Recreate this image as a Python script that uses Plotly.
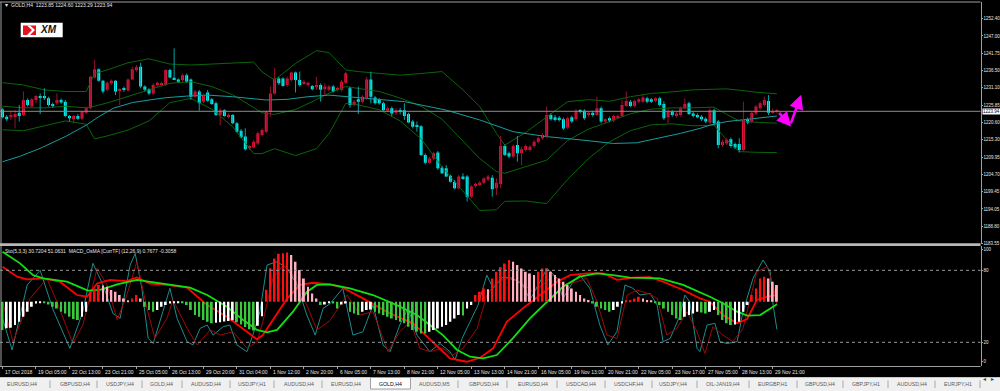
import plotly.graph_objects as go

W, H = 1000, 391

# ---------------- DATA ----------------
opens = [1224.5, 1222.3, 1222.1, 1222.5, 1223.5, 1222.8, 1227.4, 1225.4, 1227.4, 1228.6,
         1228.6, 1227.9, 1226.2, 1226.4, 1227.4, 1226.9, 1222.5, 1221.5, 1222.5, 1221.7,
         1223.5, 1224.9, 1234.3, 1236.8, 1233.3, 1230.5, 1232.5, 1233.3, 1230.3, 1231.0,
         1230.3, 1233.7, 1236.6, 1237.6, 1231.5, 1230.7, 1229.4, 1232.0, 1232.0, 1232.0,
         1236.6, 1234.2, 1233.7, 1233.5, 1235.0, 1233.7, 1228.4, 1230.0, 1226.9, 1229.7,
         1227.6, 1226.4, 1222.8, 1224.3, 1222.3, 1222.8, 1220.3, 1218.0, 1216.2, 1212.6,
         1212.9, 1214.1, 1216.7, 1217.7, 1223.8, 1229.4, 1234.0, 1234.0, 1232.0, 1233.5,
         1235.8, 1233.5, 1232.5, 1232.0, 1231.7, 1231.3, 1232.0, 1230.7, 1230.5, 1231.5,
         1230.5, 1230.5, 1232.7, 1231.0, 1225.9, 1227.6, 1226.9, 1227.9, 1233.7, 1228.2,
         1227.4, 1226.4, 1224.1, 1224.9, 1223.5, 1224.3, 1224.3, 1223.1, 1220.8, 1219.5,
         1219.4, 1210.6, 1208.2, 1209.5, 1211.3, 1206.7, 1206.5, 1204.2, 1202.4, 1200.4,
         1204.0, 1204.0, 1197.8, 1201.1, 1201.4, 1202.1, 1203.1, 1203.6, 1200.4, 1201.7,
         1213.3, 1211.1, 1210.1, 1213.6, 1211.1, 1212.1, 1212.1, 1213.3, 1214.6, 1215.7,
         1216.2, 1222.8, 1222.1, 1222.0, 1221.5, 1219.0, 1222.1, 1221.5, 1224.1, 1224.1,
         1222.8, 1223.5, 1222.8, 1224.9, 1220.8, 1221.8, 1221.1, 1222.1, 1222.5, 1225.6,
         1226.9, 1225.6, 1226.9, 1226.9, 1227.9, 1227.6, 1227.2, 1227.9, 1226.2, 1222.1,
         1223.8, 1222.5, 1222.8, 1224.9, 1226.4, 1223.3, 1222.8, 1222.3, 1221.7, 1220.5,
         1224.3, 1220.8, 1213.6, 1214.1, 1215.4, 1213.9, 1213.9, 1212.1, 1221.5, 1220.8,
         1223.3, 1224.9, 1225.9, 1227.1, 1223.5, 1223.85]
highs = [1224.9, 1222.8, 1223.8, 1224.3, 1225.9, 1230.0, 1227.9, 1228.0, 1228.9, 1229.4,
         1231.0, 1228.4, 1226.6, 1229.4, 1227.9, 1227.4, 1222.8, 1222.8, 1223.1, 1224.1,
         1225.4, 1234.8, 1239.6, 1237.1, 1233.5, 1233.0, 1233.7, 1233.5, 1231.0, 1231.5,
         1234.0, 1237.6, 1238.1, 1238.8, 1231.9, 1231.0, 1232.5, 1233.0, 1233.0, 1236.8,
         1237.0, 1243.2, 1234.0, 1235.5, 1235.5, 1234.0, 1230.5, 1230.5, 1229.4, 1230.5,
         1228.0, 1226.9, 1224.9, 1224.6, 1223.3, 1223.1, 1220.6, 1218.5, 1218.7, 1213.6,
         1215.2, 1217.7, 1218.7, 1224.1, 1231.5, 1237.1, 1234.5, 1234.3, 1234.5, 1236.1,
         1236.1, 1236.1, 1233.5, 1233.0, 1232.0, 1234.5, 1232.5, 1232.5, 1232.0, 1232.0,
         1231.5, 1233.5, 1236.1, 1231.5, 1227.4, 1231.5, 1228.9, 1234.5, 1236.1, 1228.6,
         1228.0, 1226.9, 1225.4, 1225.4, 1224.9, 1225.0, 1226.4, 1223.5, 1221.3, 1220.8,
         1219.7, 1211.1, 1210.0, 1211.5, 1211.8, 1207.2, 1207.5, 1204.6, 1202.9, 1204.5,
         1205.0, 1204.4, 1201.4, 1202.1, 1202.6, 1203.8, 1204.5, 1204.4, 1203.4, 1216.4,
         1213.8, 1211.6, 1213.8, 1216.4, 1213.1, 1213.8, 1213.6, 1215.2, 1216.2, 1217.2,
         1225.4, 1223.3, 1222.8, 1222.5, 1222.0, 1222.3, 1222.6, 1224.6, 1224.6, 1224.6,
         1223.8, 1224.1, 1228.4, 1225.4, 1221.8, 1222.3, 1223.0, 1223.0, 1227.4, 1230.0,
         1227.4, 1227.6, 1228.0, 1228.9, 1228.4, 1228.0, 1228.2, 1228.4, 1227.0, 1224.9,
         1224.3, 1223.8, 1225.4, 1227.9, 1226.9, 1223.8, 1223.3, 1222.8, 1222.1, 1224.8,
         1224.8, 1221.3, 1215.2, 1215.7, 1215.9, 1214.4, 1215.7, 1226.9, 1222.0, 1224.0,
         1225.9, 1226.9, 1228.4, 1228.9, 1224.8, 1224.60]
lows = [1221.8, 1221.0, 1221.3, 1218.7, 1220.8, 1222.5, 1225.4, 1225.0, 1226.4, 1223.1,
        1227.4, 1225.4, 1225.0, 1225.9, 1226.2, 1222.1, 1220.8, 1220.3, 1221.3, 1221.3,
        1223.1, 1224.5, 1234.0, 1233.0, 1229.4, 1230.0, 1232.0, 1228.9, 1225.9, 1229.9,
        1229.9, 1233.5, 1236.1, 1231.0, 1230.0, 1228.9, 1228.9, 1231.5, 1231.7, 1231.7,
        1234.0, 1233.5, 1232.7, 1233.0, 1232.7, 1227.4, 1227.9, 1224.1, 1226.4, 1226.9,
        1225.9, 1222.5, 1219.7, 1222.3, 1221.8, 1220.0, 1217.4, 1215.7, 1211.9, 1212.1,
        1212.6, 1213.6, 1216.2, 1217.2, 1222.3, 1229.0, 1232.0, 1231.5, 1231.5, 1233.0,
        1229.7, 1231.5, 1232.0, 1231.5, 1230.3, 1230.5, 1226.9, 1228.9, 1230.0, 1229.7,
        1230.0, 1230.0, 1232.2, 1225.0, 1225.4, 1223.1, 1226.4, 1227.4, 1226.4, 1226.0,
        1226.0, 1224.0, 1223.8, 1222.5, 1222.8, 1223.0, 1221.3, 1220.3, 1218.7, 1217.7,
        1210.3, 1207.7, 1207.9, 1209.0, 1206.0, 1204.7, 1203.8, 1202.1, 1200.1, 1200.0,
        1203.0, 1196.3, 1197.3, 1200.6, 1201.0, 1201.6, 1202.6, 1197.8, 1198.3, 1200.4,
        1210.3, 1209.6, 1209.6, 1208.5, 1207.5, 1211.6, 1211.6, 1212.8, 1214.1, 1215.2,
        1215.7, 1221.1, 1220.8, 1220.8, 1218.2, 1218.5, 1220.3, 1221.0, 1223.3, 1221.3,
        1222.3, 1222.3, 1222.5, 1220.3, 1220.3, 1220.6, 1220.6, 1221.6, 1222.3, 1225.4,
        1225.2, 1225.2, 1226.4, 1226.6, 1226.4, 1226.5, 1226.7, 1225.4, 1221.3, 1220.3,
        1222.3, 1222.0, 1222.3, 1224.6, 1222.8, 1222.0, 1221.8, 1221.0, 1220.3, 1220.0,
        1219.8, 1212.6, 1213.1, 1213.6, 1212.8, 1212.4, 1211.3, 1211.6, 1220.0, 1220.3,
        1222.8, 1224.4, 1225.4, 1222.8, 1223.2, 1223.29]
closes = [1222.1, 1221.5, 1222.8, 1223.1, 1222.5, 1227.4, 1225.9, 1227.6, 1228.6, 1228.2,
          1227.9, 1225.9, 1225.6, 1227.4, 1226.6, 1222.5, 1221.8, 1222.5, 1221.7, 1223.8,
          1224.9, 1234.5, 1236.8, 1233.3, 1230.0, 1232.7, 1233.3, 1230.0, 1230.7, 1230.5,
          1233.7, 1236.8, 1237.4, 1231.5, 1230.5, 1229.4, 1232.0, 1232.7, 1232.5, 1236.6,
          1234.3, 1233.7, 1233.0, 1235.0, 1233.0, 1228.4, 1230.0, 1226.4, 1228.9, 1227.2,
          1226.2, 1222.8, 1224.3, 1222.5, 1222.8, 1220.3, 1217.7, 1216.0, 1212.3, 1213.3,
          1214.6, 1217.2, 1218.2, 1223.8, 1229.4, 1234.0, 1232.5, 1231.7, 1234.0, 1235.8,
          1233.5, 1232.0, 1233.0, 1232.7, 1230.7, 1232.0, 1230.5, 1231.5, 1231.5, 1230.0,
          1231.0, 1233.0, 1235.6, 1225.9, 1226.9, 1226.9, 1228.4, 1233.7, 1228.4, 1226.4,
          1226.4, 1224.3, 1224.9, 1223.3, 1224.3, 1223.8, 1222.5, 1220.5, 1219.2, 1219.2,
          1210.6, 1208.2, 1209.5, 1211.1, 1206.5, 1205.0, 1204.0, 1202.4, 1200.4, 1204.0,
          1203.4, 1197.8, 1200.9, 1201.7, 1202.1, 1203.4, 1204.0, 1200.1, 1202.1, 1213.3,
          1210.6, 1210.1, 1213.3, 1211.1, 1212.3, 1213.3, 1213.1, 1214.6, 1215.7, 1216.7,
          1222.8, 1221.5, 1221.3, 1221.3, 1218.7, 1221.8, 1220.8, 1224.1, 1223.8, 1221.8,
          1223.5, 1222.8, 1224.9, 1220.8, 1221.5, 1221.1, 1222.5, 1222.5, 1225.9, 1227.1,
          1225.6, 1227.1, 1227.6, 1228.2, 1226.9, 1226.9, 1227.9, 1225.9, 1221.8, 1223.8,
          1222.8, 1223.3, 1224.9, 1226.2, 1223.1, 1222.5, 1222.1, 1221.5, 1220.8, 1224.3,
          1220.3, 1213.6, 1214.6, 1215.2, 1213.3, 1212.9, 1212.1, 1221.3, 1220.5, 1223.5,
          1225.4, 1226.4, 1227.4, 1223.5, 1224.0, 1223.94]
bars = list(range(len(opens)))

# Bollinger bands (read at sampled bars)
bb_x = [0, 5, 10, 15, 20, 22, 25, 30, 35, 40, 45, 50, 55, 60, 62, 65, 70, 75, 78, 82, 85, 90, 95, 100,
        105, 110, 114, 118, 120, 125, 130, 135, 140, 145, 150, 155, 160, 165, 170, 173, 176, 180, 185]
bb_upper = [1232.7, 1232.0, 1230.5, 1230.0, 1230.0, 1235.5, 1236.6, 1238.8, 1240.0, 1238.4, 1238.1,
            1238.4, 1238.8, 1239.0, 1236.0, 1233.5, 1238.6, 1242.5, 1241.9, 1236.6, 1236.1, 1235.6,
            1235.0, 1235.5, 1236.1, 1230.5, 1225.4, 1217.2, 1213.6, 1217.5, 1222.3, 1226.9, 1227.5,
            1227.0, 1228.4, 1229.4, 1229.9, 1230.5, 1230.7, 1230.8, 1230.4, 1229.8, 1229.3]
bb_mid = [1225.5, 1225.0, 1225.0, 1225.5, 1225.0, 1225.5, 1226.5, 1228.5, 1230.5, 1232.5, 1233.0,
          1231.5, 1229.0, 1225.0, 1223.5, 1223.0, 1224.5, 1227.5, 1229.5, 1231.5, 1231.0, 1230.0,
          1228.0, 1225.5, 1221.5, 1215.0, 1209.5, 1205.5, 1205.0, 1207.0, 1209.0, 1215.0, 1218.5,
          1220.8, 1223.2, 1224.6, 1225.0, 1225.0, 1225.2, 1223.0, 1221.0, 1220.6, 1220.3]
bb_lower = [1218.3, 1218.0, 1219.5, 1221.0, 1220.0, 1215.5, 1216.4, 1218.2, 1221.0, 1226.6, 1227.9,
            1224.6, 1219.2, 1211.0, 1211.0, 1212.5, 1210.4, 1212.5, 1217.1, 1226.4, 1225.9, 1224.4,
            1221.0, 1215.5, 1206.9, 1199.5, 1193.6, 1193.8, 1196.4, 1196.5, 1195.7, 1203.1, 1209.5,
            1214.6, 1218.0, 1219.8, 1220.1, 1219.5, 1219.7, 1215.2, 1211.6, 1211.4, 1211.3]

# slow moving average (teal)
ma_x = [0, 4, 9, 15, 20, 23, 26.5, 31, 35, 39, 44, 49, 55, 63, 68, 73, 78, 96, 106, 114, 122, 130,
        138, 146, 151.5, 157, 162, 166.6, 169, 173, 177.7, 181, 185]
ma_y = [1208.5, 1210.1, 1212.6, 1216.2, 1219.7, 1222.3, 1224.9, 1226.6, 1227.4, 1228.1, 1228.6,
        1228.9, 1228.4, 1227.4, 1227.6, 1228.4, 1228.9, 1226.9, 1224.3, 1221.3, 1217.7, 1216.2,
        1215.2, 1214.1, 1214.3, 1215.7, 1217.2, 1218.7, 1219.7, 1220.8, 1221.5, 1222.1, 1222.5]

price_ticks = [1252.40, 1247.00, 1241.75, 1236.50, 1231.10, 1225.85, 1220.60, 1215.30, 1209.95,
               1204.70, 1199.45, 1194.05, 1188.80, 1183.55]
last_open, last_high, last_low, last_price = 1223.85, 1224.60, 1223.29, 1223.94

# lower window: stochastic (5,3,3)
stk_x = [0, 2.3, 5.9, 9, 12.1, 16.1, 19.2, 21.6, 24, 26.4, 28.1, 30.5, 31.7, 33.3, 34.8, 36, 38.3,
         40, 41.7, 44.1, 45.5, 47.2, 48.9, 50.3, 52.7, 54.3, 56, 58.4, 59.8, 61.5, 63.2, 65.6, 68,
         70.4, 72.7, 74.7, 76.6, 78.2, 81.3, 83.7, 86.1, 88.5, 90.9, 92.6, 94.9, 96.9, 99, 102.1,
         104.5, 106.9, 108.1, 109.8, 111.7, 113.6, 115.7, 117.2, 119.6, 121.9, 124.3, 126, 128.4,
         130.1, 132.5, 133.9, 136.3, 137.9, 140.3, 142.7, 144.6, 146.8, 148.7, 150.6, 152.3, 154.7,
         156.4, 157.8, 159.5, 161.9, 163, 164.2, 165.9, 166.6, 168.3, 170.2, 171.4, 173.1, 175.5,
         176.9, 179.3, 181.7, 183.4, 184.1, 185]
stk_main = [40, 13.6, 67.8, 80, 47, 15, 45.5, 85.8, 67.8, 44, 40, 84.4, 94, 65, 23.3, 19, 45.5, 65,
            40, 20.5, 17.8, 31.6, 34.4, 26, 33, 34.4, 17.8, 12.2, 26, 45.5, 84.4, 87.2, 81.7, 67.8,
            42.7, 26, 48.3, 52, 65, 26, 28.8, 51, 17.8, 12.2, 34.4, 48.3, 26, 12.2, 19, 12.2, 5.3,
            23.3, 37.2, 51, 76, 65, 74.7, 73.3, 67.8, 55.3, 70.5, 81.7, 73.3, 56.6, 70.5, 76, 65,
            34.4, 17.8, 29, 67.8, 65, 59.4, 60.8, 51, 20.5, 23.3, 42.7, 59.4, 53.8, 15, 12.2, 34.4,
            35.8, 20.5, 19, 20.5, 45.5, 73.3, 88.6, 78.8, 51, 30.7]
std_x = [0, 2.5, 6.6, 10.6, 13, 16.8, 19.2, 22.6, 25, 27.4, 29.7, 32.1, 34.5, 36.4, 39.3, 40.7, 44.1,
         46.5, 49.6, 52, 55.1, 58.4, 60.8, 62.2, 64.6, 67, 69.4, 72.7, 75.1, 78.2, 82.3, 85.4, 88.5,
         92.1, 94.9, 97.4, 99.7, 102.1, 105.2, 107.6, 110, 113.4, 115.7, 118.1, 120.5, 123.6, 126.7,
         129.1, 131.5, 133.9, 137.2, 139.6, 142, 144.4, 146.8, 149.2, 151.6, 154.7, 156.4, 158.7,
         161.1, 163.5, 165.9, 167.8, 169.7, 172.1, 174.5, 176.9, 180.2, 182.7, 184.1, 185]
stk_signal = [53.8, 20.5, 56.6, 73.3, 53.8, 19, 34.4, 81.7, 67.8, 38.6, 59.4, 87.2, 48.3, 23.3, 40,
              55.3, 31.6, 17.8, 30.3, 26, 28.8, 15, 20.5, 37.2, 73.3, 84.4, 76, 51, 30.3, 38, 59.4,
              42.7, 45.5, 12.2, 28.8, 37.2, 15, 12.2, 15, 9.4, 15, 31.6, 59.4, 70.5, 73.3, 70.5,
              62.2, 67.8, 76, 67.8, 70.5, 73.3, 53.8, 26, 23.3, 59.4, 63.6, 60, 56.6, 26, 31.6,
              45.5, 28.8, 10.8, 33, 26, 20.5, 31.6, 78.8, 83, 67.8, 51.1]

# lower window: MACD_OsMA lines (thick red / thick green)
macd_x = [0, 3.5, 5.9, 9.7, 13.7, 17.8, 20.2, 22.6, 25.7, 29.7, 32.1, 35.2, 39.3, 44.1, 48.9, 53.6,
          58.4, 60.8, 62.2, 64.6, 68, 71.1, 74.2, 78.2, 81.3, 86.1, 92.6, 98.1, 102.8, 106.9, 110.9,
          114.1, 117.2, 120.5, 124.3, 128.4, 132.5, 135.6, 139.6, 143.5, 146.8, 150.6, 154.7, 157.8,
          162.6, 166.6, 169, 172.1, 175.5, 177.9, 180.2, 182.7, 185]
macd_main = [83, 74.7, 72.5, 73.3, 70.5, 59.4, 58, 69, 72, 71, 74, 69, 67.8, 65.5, 51, 41.3, 28.8,
             22.5, 26, 38.6, 56.6, 67.8, 69.6, 68.3, 65.5, 56.6, 44, 35.8, 20.5, 6.6, 3.8, 7.2, 15,
             37.2, 48.3, 59.4, 70.5, 76, 77.5, 77.5, 72, 73.9, 74.2, 70.5, 63.6, 56.6, 53.8, 42.7,
             35.8, 39.4, 55.3, 58, 59.4]
sig_x = [0, 4.2, 7.3, 9.7, 15.4, 19.2, 20.4, 23.3, 27.4, 32.1, 35.2, 40.7, 44.8, 48.9, 53.6, 57.5,
         60.8, 63.2, 65.6, 69.4, 72.7, 75.1, 78.2, 83, 88.5, 94.2, 99, 102.1, 105.2, 108.6, 111.7,
         114.8, 118.1, 121.9, 126, 130.1, 133.9, 137.9, 142, 145.8, 149.9, 157.1, 162.6, 169,
         172.1, 175.5, 177.9, 181, 185]
macd_signal = [95.5, 85.8, 76, 73.3, 70.5, 65, 63, 63.6, 68.3, 72, 70.5, 67.8, 65.5, 59.4, 49.7,
               38.6, 30.3, 28.3, 30.3, 45.5, 62, 67.8, 68.3, 65, 59.4, 51, 42.7, 34.4, 26, 13.6, 8,
               6.6, 9.4, 23.3, 40, 53.8, 66.3, 74.7, 77.5, 76, 73.9, 73.3, 67.8, 58, 52.5, 45.5,
               42.2, 42.7, 51.7]
osma = [-23.6, -22.0, -21.7, -19.4, -16.7, -12.5, -8.3, -4.2, -1.4, -0.6,
        -0.8, -2.2, -4.2, -5.6, -8.3, -9.7, -12.5, -14.4, -15.3, -12.5,
        -8.3, 8.3, 11.1, 13.9, 13.6, 12.5, 9.7, 8.3, 5.6, 2.8,
        0.6, 2.8, 5.6, 2.8, -4.2, -6.9, -8.3, -6.9, -4.2, -2.8,
        -1.4, -0.8, -0.6, -1.0, -2.8, -6.9, -11.1, -12.5, -15.3, -16.7,
        -18.0, -17.5, -17.0, -16.5, -16.0, -15.5, -17.0, -19.0, -21.0, -23.0,
        -24.0, -20.0, -12.0, 10.0, 28.0, 36.0, 40.0, 40.5, 41.0, 38.9,
        33.3, 26.4, 19.4, 12.5, 6.9, 2.8, -2.8, -2.2, -0.6, -1.4,
        -5.6, -2.2, -1.4, -8.3, -9.7, -11.1, -8.3, -6.9, -6.5, -8.3,
        -9.7, -11.1, -12.5, -13.9, -15.3, -16.7, -18.0, -20.8, -23.6, -25.0,
        -26.4, -26.5, -25.0, -23.6, -22.2, -20.8, -19.4, -16.7, -13.9, -11.1,
        -11.5, -5.6, -2.8, 5.6, 8.3, 11.1, 10.5, 19.4, 25.0, 29.0,
        31.9, 34.7, 33.3, 30.6, 27.8, 25.0, 23.6, 22.2, 25.0, 27.8,
        28.0, 25.0, 22.2, 19.4, 16.7, 13.9, 11.1, 8.3, 5.6, 2.8,
        1.4, -1.4, -4.2, -5.6, -6.9, -8.3, -6.9, -4.2, -1.4, 0.6,
        1.4, 2.8, 4.2, 2.8, 1.4, 0.6, -0.6, -2.8, -5.6, -8.3,
        -11.1, -13.9, -15.3, -12.5, -11.1, -9.7, -8.3, -9.0, -9.7, -8.3,
        -6.9, -11.1, -15.3, -18.0, -19.4, -19.0, -16.7, -8.3, -2.8, 5.6,
        11.1, 19.4, 20.8, 19.4, 16.7, 13.9]
stoch_levels = [80, 20]

date_labels = ["17 Oct 2018", "19 Oct 05:00", "22 Oct 13:00", "23 Oct 21:00", "25 Oct 05:00",
               "26 Oct 13:00", "29 Oct 20:00", "31 Oct 04:00", "1 Nov 12:00", "2 Nov 20:00",
               "6 Nov 05:00", "7 Nov 13:00", "8 Nov 21:00", "12 Nov 05:00", "13 Nov 13:00",
               "14 Nov 21:00", "16 Nov 05:00", "19 Nov 13:00", "20 Nov 21:00", "22 Nov 05:00",
               "23 Nov 17:00", "27 Nov 05:00", "28 Nov 13:00", "29 Nov 21:00"]
date_tick_bars = list(range(0, 8 * len(date_labels), 8))

tab_labels = ["EURUSD,H4", "GBPUSD,H4", "USDJPY,H4", "GOLD,H4", "AUDUSD,H4", "USDJPY,H1",
              "AUDUSD,H4", "EURUSD,H4", "GOLD,H4", "AUDUSD,M5", "GBPUSD,H4", "EURUSD,H4",
              "USDCAD,H4", "USDCHF,H4", "USDJPY,H4", "OIL-JAN19,H4", "EURGBP,H1", "GBPUSD,H4",
              "GBPJPY,H1", "AUDUSD,H4", "EURJPY,H1"]
active_tab = 8

arrow_path = [(185.2, 1223.9), (188.4, 1219.3), (188.2, 1219.8), (190.8, 1229.0)]

# ---------------- STYLE / LAYOUT HELPERS ----------------
FONT = "Liberation Sans, Arial, sans-serif"
BULL, BEAR = "#e8163c", "#00ffff"
BULL_WICK, BEAR_WICK = "#9a1030", "#00a5a5"
FRAME = "#a0a0a0"
TXT = "#e6e6e6"
PLOT_R = 980.5  # right edge of plot area in px


def py(p):
    return 1 - p / H


def pxf(p):
    return p / W


fig = go.Figure()

# Bollinger + MA (behind candles)
for arr in (bb_upper, bb_mid, bb_lower):
    fig.add_trace(go.Scatter(x=bb_x, y=arr, mode="lines", line=dict(color="#0a650a", width=1),
                             xaxis="x", yaxis="y", hoverinfo="skip"))
fig.add_trace(go.Scatter(x=ma_x, y=ma_y, mode="lines", line=dict(color="#1a9c9c", width=1),
                         xaxis="x", yaxis="y", hoverinfo="skip"))

# candles
inc = [i for i in bars if closes[i] >= opens[i]]
dec = [i for i in bars if closes[i] < opens[i]]


def wick_xy(idx):
    xs, ys = [], []
    for i in idx:
        xs += [i, i, None]
        ys += [lows[i], highs[i], None]
    return xs, ys


for idx, wc, bc in ((inc, BULL_WICK, BULL), (dec, BEAR_WICK, BEAR)):
    wx, wy = wick_xy(idx)
    fig.add_trace(go.Scatter(x=wx, y=wy, mode="lines", line=dict(color=wc, width=1),
                             xaxis="x", yaxis="y", hoverinfo="skip"))
    fig.add_trace(go.Bar(x=idx, base=[min(opens[i], closes[i]) for i in idx],
                         y=[max(abs(closes[i] - opens[i]), 0.3) for i in idx],
                         width=0.7, marker=dict(color=bc, line=dict(width=0)),
                         xaxis="x", yaxis="y", hoverinfo="skip"))

# OsMA histogram
hist_colors = []
prev = None
for v in osma:
    rising = prev is not None and v > prev
    if v >= 0:
        hist_colors.append("#ff1010" if (rising or prev is None) else "#ffb0c0")
    else:
        hist_colors.append("#ffffff" if rising else "#3cc83c")
    prev = v
fig.add_trace(go.Bar(x=bars, y=osma, width=0.45, marker=dict(color=hist_colors, line=dict(width=0)),
                     xaxis="x", yaxis="y3", hoverinfo="skip"))

# stochastic + MACD lines
fig.add_trace(go.Scatter(x=stk_x, y=stk_main, mode="lines", line=dict(color="#1d8c8c", width=1),
                         xaxis="x", yaxis="y2", hoverinfo="skip"))
fig.add_trace(go.Scatter(x=std_x, y=stk_signal, mode="lines", line=dict(color="#a00808", width=1),
                         xaxis="x", yaxis="y2", hoverinfo="skip"))
fig.add_trace(go.Scatter(x=macd_x, y=macd_main, mode="lines", line=dict(color="#ff0000", width=1.8),
                         xaxis="x", yaxis="y2", hoverinfo="skip"))
fig.add_trace(go.Scatter(x=sig_x, y=macd_signal, mode="lines", line=dict(color="#10e010", width=1.8),
                         xaxis="x", yaxis="y2", hoverinfo="skip"))

# ---------------- AXES ----------------
x_per_bar = 4.186
x_left = -2.5 / x_per_bar
x_right = (PLOT_R - 2.5) / x_per_bar
price_per_px = 0.306
y_top = price_ticks[0] + (18.3 - 2) * price_per_px
y_bot = price_ticks[0] - (243.5 - 18.3) * price_per_px

axis_font = dict(family=FONT, size=4.5, color=TXT)
fig.update_layout(
    width=W, height=H, margin=dict(l=0, r=0, t=0, b=0, pad=0),
    paper_bgcolor="#000000", plot_bgcolor="rgba(0,0,0,0)",
    showlegend=False, hovermode=False, barmode="overlay",
    xaxis=dict(domain=[0, PLOT_R / W], range=[x_left, x_right], anchor="y2",
               showgrid=False, zeroline=False, showline=False, ticks="outside",
               tickvals=date_tick_bars, ticklen=2, tickcolor=FRAME, showticklabels=False,
               automargin=False, fixedrange=True),
    yaxis=dict(domain=[py(243.5), py(2)], range=[y_bot, y_top], side="right", anchor="x",
               tickvals=price_ticks, ticktext=[f"{v:.2f}" for v in price_ticks],
               ticks="outside", ticklen=1, tickcolor=FRAME, tickfont=axis_font,
               showline=True, linecolor=FRAME, linewidth=1, showgrid=False, zeroline=False,
               automargin=False, fixedrange=True),
    yaxis2=dict(domain=[py(366.3), py(246.3)], range=[0, 100], side="right", anchor="x",
                tickvals=[97.5, 80, 20, 3.8], ticktext=["100", "80", "20", "0"],
                ticks="outside", ticklen=1, tickcolor=FRAME, tickfont=axis_font,
                showline=True, linecolor=FRAME, linewidth=1, showgrid=False, zeroline=False,
                automargin=False, fixedrange=True),
    yaxis3=dict(overlaying="y2", anchor="x", range=[-53.8, 46.2], visible=False, fixedrange=True),
)

# ---------------- SHAPES ----------------
shapes = []
# price line
shapes.append(dict(type="line", xref="paper", yref="y", x0=0, x1=PLOT_R / W, y0=last_price,
                   y1=last_price, line=dict(color="#8c8c8c", width=1)))
# frame
shapes.append(dict(type="line", xref="paper", yref="paper", x0=0, x1=PLOT_R / W, y0=py(2), y1=py(2),
                   line=dict(color=FRAME, width=1)))
shapes.append(dict(type="line", xref="paper", yref="paper", x0=pxf(1), x1=pxf(1), y0=py(2), y1=py(366.3),
                   line=dict(color=FRAME, width=1)))
shapes.append(dict(type="rect", xref="paper", yref="paper", x0=0, x1=PLOT_R / W, y0=py(246), y1=py(243.3),
                   fillcolor="#b8b8b8", line=dict(width=0)))
shapes.append(dict(type="line", xref="paper", yref="paper", x0=0, x1=PLOT_R / W, y0=py(366.5), y1=py(366.5),
                   line=dict(color=FRAME, width=1)))
for lv in stoch_levels:
    shapes.append(dict(type="line", xref="paper", yref="y2", x0=0, x1=PLOT_R / W, y0=lv, y1=lv,
                       line=dict(color="#9a9a9a", width=1, dash="dot")))
# tab bar
shapes.append(dict(type="rect", xref="paper", yref="paper", x0=0, x1=1, y0=py(391), y1=py(377.5),
                   fillcolor="#f0f0f0", line=dict(width=0)))
shapes.append(dict(type="line", xref="paper", yref="paper", x0=0, x1=1, y0=py(377.5), y1=py(377.5),
                   line=dict(color="#c8c8c8", width=1)))
shapes.append(dict(type="rect", xref="paper", yref="paper", x0=pxf(370.5), x1=pxf(410.5),
                   y0=py(389), y1=py(377.5), fillcolor="#ffffff", line=dict(color="#a0a0a0", width=1)))
tab_centers = [21.5, 74.5, 120, 161.5, 206, 252, 298.5, 345.5, 390.5, 434.5, 484, 532.5, 580.5,
               628.5, 673, 722.5, 772.5, 819.5, 866, 911.5, 957.5]
tab_seps = [50, 97, 142, 182, 230, 274, 322, 458, 507, 557, 605, 652, 697, 749, 797, 843, 888, 935, 980]
for sx in tab_seps:
    shapes.append(dict(type="line", xref="paper", yref="paper", x0=pxf(sx), x1=pxf(sx), y0=py(388),
                       y1=py(380.5), line=dict(color="#a8a8a8", width=1)))
# XM logo
shapes.append(dict(type="rect", xref="paper", yref="paper", x0=pxf(20.7), x1=pxf(62.7), y0=py(37.3),
                   y1=py(22.7), fillcolor="#ffffff", line=dict(width=0)))


def ppath(pts):
    return "M " + " L ".join(f"{pxf(a):.5f},{py(b):.5f}" for a, b in pts) + " Z"


shapes.append(dict(type="path", xref="paper", yref="paper",
                   path=ppath([(23, 25.5), (36, 25.5), (36, 35), (23, 35)]),
                   fillcolor="#e2141e", line=dict(width=0)))
shapes.append(dict(type="path", xref="paper", yref="paper",
                   path=ppath([(27, 25.5), (30, 25.5), (35, 30), (30, 35), (27, 35), (32, 30)]),
                   fillcolor="#ffffff", line=dict(width=0)))
fig.update_layout(shapes=shapes)

# ---------------- ANNOTATIONS ----------------
ann = []
ann.append(dict(xref="paper", yref="paper", x=pxf(9), y=py(5.5), xanchor="left", yanchor="middle",
                text=f"GOLD,H4  {last_open:.2f} {last_high:.2f} {last_low:.2f} {last_price:.2f}",
                showarrow=False, font=dict(family=FONT, size=5, color=TXT)))
ann.append(dict(xref="paper", yref="paper", x=pxf(2.5), y=py(5.5), xanchor="left", yanchor="middle",
                text="▾", showarrow=False, font=dict(family=FONT, size=6, color=TXT)))
ann.append(dict(xref="paper", yref="paper", x=pxf(2.5), y=py(250.5), xanchor="left", yanchor="middle",
                text="Sto(5,3,3) 30.7204 51.0631  MACD_OsMA [CurrTF] (12,26,9) 0.7677 -0.3058",
                showarrow=False, font=dict(family=FONT, size=5, color=TXT)))
ann.append(dict(xref="paper", yref="paper", x=pxf(37.5), y=py(29.5), xanchor="left", yanchor="middle",
                text="<b><i>XM</i></b>", showarrow=False, font=dict(family=FONT, size=10, color="#111111")))
# last price tag
ann.append(dict(xref="paper", yref="y", x=pxf(981.5), y=last_price, xanchor="left", yanchor="middle",
                text=f"{last_price:.2f}", showarrow=False, bgcolor="#ffffff", borderpad=0,
                font=dict(family=FONT, size=4.5, color="#000000")))
# dates
for b, lab in zip(date_tick_bars, date_labels):
    ann.append(dict(xref="x", yref="paper", x=b + 0.1, y=py(371.5), xanchor="left", yanchor="middle",
                    text=lab, showarrow=False, font=dict(family=FONT, size=5, color=TXT)))
# tabs
for k, (cx, lab) in enumerate(zip(tab_centers, tab_labels)):
    ann.append(dict(xref="paper", yref="paper", x=pxf(cx), y=py(384), xanchor="center", yanchor="middle",
                    text=lab, showarrow=False,
                    font=dict(family=FONT, size=5.2, color="#000000" if k == active_tab else "#5a5a5a")))
ann.append(dict(xref="paper", yref="paper", x=pxf(988), y=py(384), text="◂", showarrow=False,
                font=dict(family=FONT, size=6, color="#404040")))
ann.append(dict(xref="paper", yref="paper", x=pxf(996), y=py(384), text="▸", showarrow=False,
                font=dict(family=FONT, size=6, color="#404040")))
# magenta forecast arrows
for (tx, ty), (hx, hy) in ((arrow_path[0], arrow_path[1]), (arrow_path[2], arrow_path[3])):
    ann.append(dict(xref="x", yref="y", axref="x", ayref="y", x=hx, y=hy, ax=tx, ay=ty, text="",
                    showarrow=True, arrowhead=2, arrowsize=1.1, arrowwidth=2.6, arrowcolor="#ff00ff"))
fig.update_layout(annotations=ann)

fig.write_html("out.html", config={"displayModeBar": False},
               post_script="document.body.style.margin='0';document.body.style.padding='0';"
                           "document.documentElement.style.overflow='hidden';")
